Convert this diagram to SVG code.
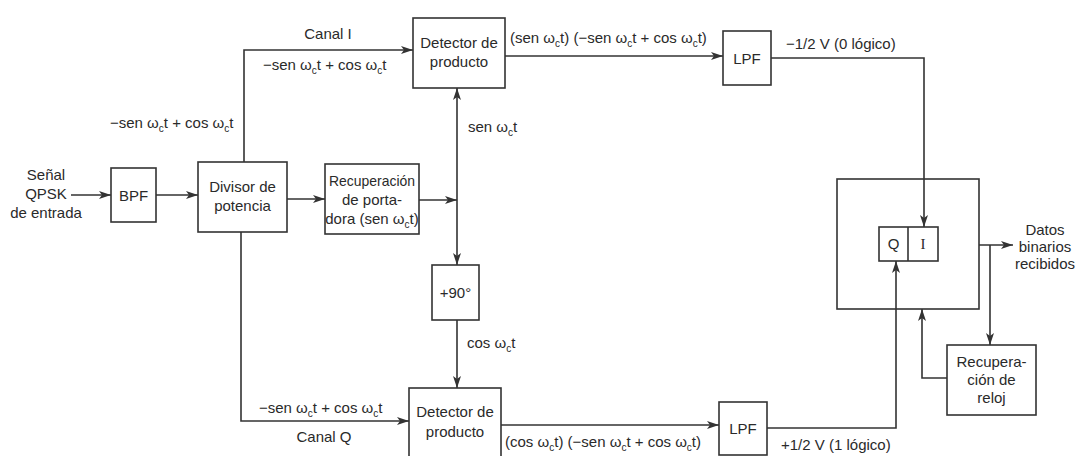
<svg xmlns="http://www.w3.org/2000/svg" width="1077" height="456" viewBox="0 0 1077 456">
<style>
text{font-family:"Liberation Sans",Arial,sans-serif;font-size:15px;fill:#2a2a2a}
.c{text-anchor:middle}
.s{font-size:10px}
.box{fill:none;stroke:#333;stroke-width:1.6}
.ln{fill:none;stroke:#333;stroke-width:1.6}
.ser{font-family:"Liberation Serif","Times New Roman",serif;font-size:15px}
</style>
<defs>
<marker id="ar" markerUnits="userSpaceOnUse" markerWidth="13" markerHeight="9" refX="12" refY="4.5" orient="auto">
<path d="M0,0.5 L12,4.5 L0,8.5 L3,4.5 z" fill="#333"/>
</marker>
</defs>
<rect width="1077" height="456" fill="#fff"/>

<g id="connectors">
<path class="ln" d="M71,195 H111" marker-end="url(#ar)"/>
<path class="ln" d="M156,195 H198" marker-end="url(#ar)"/>
<path class="ln" d="M287,199 H325" marker-end="url(#ar)"/>
<path class="ln" d="M244,162 V50 H413" marker-end="url(#ar)"/>
<path class="ln" d="M241,232 V421 H409" marker-end="url(#ar)"/>
<path class="ln" d="M419,200 H457" marker-end="url(#ar)"/>
<path class="ln" d="M457,200 V88" marker-end="url(#ar)"/>
<path class="ln" d="M457,200 V265" marker-end="url(#ar)"/>
<path class="ln" d="M457,320 V388" marker-end="url(#ar)"/>
<path class="ln" d="M505,56 H723" marker-end="url(#ar)"/>
<path class="ln" d="M501,425 H719" marker-end="url(#ar)"/>
<path class="ln" d="M771,58 H924 V227" marker-end="url(#ar)"/>
<path class="ln" d="M767,428 H896 V261" marker-end="url(#ar)"/>
<path class="ln" d="M979,245 H1013" marker-end="url(#ar)"/>
<path class="ln" d="M990,245 V345" marker-end="url(#ar)"/>
<path class="ln" d="M947,378 H922 V309" marker-end="url(#ar)"/>
</g>

<g id="input">
<text class="c" x="46" y="180">Señal</text>
<text class="c" x="46" y="199">QPSK</text>
<text class="c" x="46" y="218">de entrada</text>
</g>

<g id="bpf">
<rect class="box" x="111" y="168" width="45" height="54"/>
<text class="c" x="133.5" y="201">BPF</text>
</g>

<g id="divisor">
<rect class="box" x="198" y="162" width="89" height="70"/>
<text class="c" x="242.5" y="192">Divisor de</text>
<text class="c" x="242.5" y="211">potencia</text>
</g>

<g id="recuperacion-portadora">
<rect class="box" x="325" y="164" width="94" height="70"/>
<text class="c" x="372" y="186" textLength="86" lengthAdjust="spacingAndGlyphs">Recuperación</text>
<text class="c" x="372" y="205">de porta-</text>
<text class="c" x="372" y="224">dora (sen ω<tspan class="s" dy="4">c</tspan><tspan dy="-4">t)</tspan></text>
</g>

<g id="detector-i">
<rect class="box" x="413" y="18" width="92" height="70"/>
<text class="c" x="459" y="48">Detector de</text>
<text class="c" x="459" y="67">producto</text>
</g>

<g id="desfase">
<rect class="box" x="432" y="265" width="47" height="55"/>
<text class="c" x="455.5" y="298">+90°</text>
</g>

<g id="detector-q">
<rect class="box" x="409" y="388" width="92" height="70"/>
<text class="c" x="455" y="417">Detector de</text>
<text class="c" x="455" y="437">producto</text>
</g>

<g id="lpf-i">
<rect class="box" x="723" y="31" width="48" height="54"/>
<text class="c" x="747" y="64">LPF</text>
</g>

<g id="lpf-q">
<rect class="box" x="719" y="402" width="48" height="53"/>
<text class="c" x="743" y="434">LPF</text>
</g>

<g id="decision">
<rect class="box" x="837" y="179" width="142" height="130"/>
<rect class="box" x="879" y="227" width="59" height="34"/>
<line class="ln" x1="908" y1="227" x2="908" y2="261"/>
<text class="c" x="893.5" y="249">Q</text>
<text class="c ser" x="923" y="249">I</text>
</g>

<g id="recuperacion-reloj">
<rect class="box" x="947" y="345" width="89" height="70"/>
<text class="c" x="991.5" y="367">Recupera-</text>
<text class="c" x="991.5" y="385">ción de</text>
<text class="c" x="991.5" y="403">reloj</text>
</g>

<g id="salida">
<text class="c" x="1045" y="235">Datos</text>
<text class="c" x="1045" y="252">binarios</text>
<text class="c" x="1045" y="269">recibidos</text>
</g>

<g id="labels">
<text class="c" x="328" y="39">Canal I</text>
<text x="263" y="70">−sen ω<tspan class="s" dy="4">c</tspan><tspan dy="-4">t + cos ω</tspan><tspan class="s" dy="4">c</tspan><tspan dy="-4">t</tspan></text>
<text x="110" y="128">−sen ω<tspan class="s" dy="4">c</tspan><tspan dy="-4">t + cos ω</tspan><tspan class="s" dy="4">c</tspan><tspan dy="-4">t</tspan></text>
<text x="510" y="43">(sen ω<tspan class="s" dy="4">c</tspan><tspan dy="-4">t) (−sen ω</tspan><tspan class="s" dy="4">c</tspan><tspan dy="-4">t + cos ω</tspan><tspan class="s" dy="4">c</tspan><tspan dy="-4">t)</tspan></text>
<text x="468" y="132">sen ω<tspan class="s" dy="4">c</tspan><tspan dy="-4">t</tspan></text>
<text x="467" y="348">cos ω<tspan class="s" dy="4">c</tspan><tspan dy="-4">t</tspan></text>
<text x="259" y="413">−sen ω<tspan class="s" dy="4">c</tspan><tspan dy="-4">t + cos ω</tspan><tspan class="s" dy="4">c</tspan><tspan dy="-4">t</tspan></text>
<text class="c" x="324" y="442">Canal Q</text>
<text x="505" y="447">(cos ω<tspan class="s" dy="4">c</tspan><tspan dy="-4">t) (−sen ω</tspan><tspan class="s" dy="4">c</tspan><tspan dy="-4">t + cos ω</tspan><tspan class="s" dy="4">c</tspan><tspan dy="-4">t)</tspan></text>
<text x="786" y="49">−1/2 V (0 lógico)</text>
<text x="781" y="450">+1/2 V (1 lógico)</text>
</g>
</svg>
